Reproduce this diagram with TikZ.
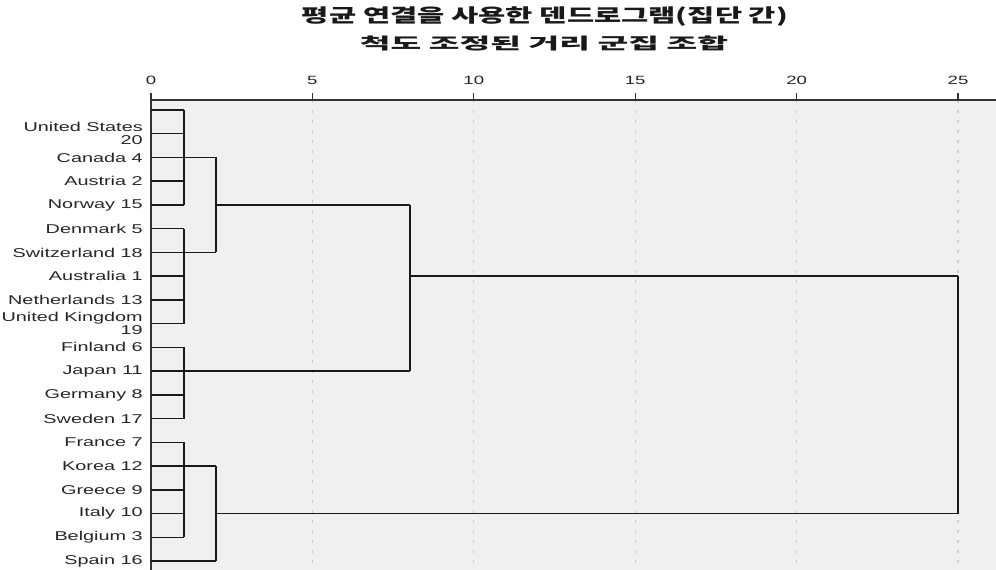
\documentclass[tikz,border=0pt]{standalone}
\usepackage{graphicx}
\usepackage{fontspec}
\setmainfont{Liberation Sans}
\newfontfamily\lbl[FakeStretch=1.55]{Liberation Sans}
\newfontfamily\cjk{Noto Sans CJK KR}
\definecolor{bgc}{RGB}{240,240,240}
\definecolor{gridc}{RGB}{205,205,205}
\definecolor{linec}{RGB}{25,25,25}
\begin{document}
\begin{tikzpicture}[x=0.75pt,y=-0.75pt,
  hline/.style={draw=linec,line width=1.1pt},
  vline/.style={draw=linec,line width=1.7pt},
  gridline/.style={draw=gridc,line width=0.9pt,dash pattern=on 2.5pt off 5pt},
  axisline/.style={draw=black!80,line width=1pt},
  leaflabel/.style={anchor=east,inner sep=0pt,align=right,font=\lbl\fontsize{9.6}{9.8}\selectfont,text=black!85},
  ticklabel/.style={inner sep=0pt,font=\lbl\fontsize{9}{9}\selectfont,text=black!85},
  titletext/.style={inner sep=0pt,text=black!90}]
\useasboundingbox (0,0) rectangle (996,570);
\fill[bgc] (151,100) rectangle (996,570);
% axis ticks positions
\foreach \k/\v in {0/0,1/5,2/10,3/15,4/20,5/25}{
  \coordinate (t\k) at ({151+161.4*\k},100);
  \node[ticklabel] (tl\k) at ({151+161.4*\k},80) {\v};
}
\foreach \k in {1,...,5}{
  \draw[gridline] (t\k) -- ++(0,470);
  \draw[axisline] (t\k) -- ++(0,-7);
}
\draw[axisline] (t0) -- (996,100);
\draw[axisline] (151,93) -- (151,570);
% titles
\node[titletext] (title1) at (545,17) {\cjk\bfseries\fontsize{14}{14}\selectfont\resizebox{364.5pt}{\height}{평균 연결을 사용한 덴드로그램(집단 간)}};
\node[titletext] (title2) at (544,43) {\cjk\bfseries\fontsize{12}{12}\selectfont\resizebox{276pt}{\height}{척도 조정된 거리 군집 조합}};
% rows
\foreach \i in {0,...,19}{
  \coordinate (r\i) at (151,{110+23.74*\i});
}
\coordinate (k1) at (184,100);
\coordinate (k2) at (216,100);
\coordinate (k3) at (410,100);
\coordinate (k4) at (958,100);
% labels
\foreach \i/\t in {2/Canada 4,3/Austria 2,4/Norway 15,5/Denmark 5,6/Switzerland 18,7/Australia 1,8/Netherlands 13,10/Finland 6,11/Japan 11,12/Germany 8,13/Sweden 17,14/France 7,15/Korea 12,16/Greece 9,17/Italy 10,18/Belgium 3,19/Spain 16}{
  \node[leaflabel] (lab\i) at ([xshift=-6pt]r\i) {\t};
}
\node[leaflabel] (lab1) at ([xshift=-6pt]r1) {United States\\20};
\node[leaflabel] (lab9) at ([xshift=-6pt]r9) {United Kingdom\\19};
% leaf lines
\foreach \i in {0,...,18}{
  \draw[hline] (r\i) -- (r\i -| k1);
}
\draw[hline] (r19) -- (r19 -| k2);
% first-level clusters
\draw[vline] (r0 -| k1) -- (r4 -| k1);
\draw[vline] (r5 -| k1) -- (r9 -| k1);
\draw[vline] (r10 -| k1) -- (r13 -| k1);
\draw[vline] (r14 -| k1) -- (r18 -| k1);
% second level
\draw[hline] (r2 -| k1) -- (r2 -| k2);
\draw[hline] (r6 -| k1) -- (r6 -| k2);
\draw[vline] (r2 -| k2) -- (r6 -| k2);
\draw[hline] (r15 -| k1) -- (r15 -| k2);
\draw[vline] (r15 -| k2) -- (r19 -| k2);
% third level
\draw[hline] (r4 -| k2) -- (r4 -| k3);
\draw[hline] (r11 -| k1) -- (r11 -| k3);
\draw[vline] (r4 -| k3) -- (r11 -| k3);
% final
\draw[hline] (r7 -| k3) -- (r7 -| k4);
\draw[hline] (r17 -| k2) -- (r17 -| k4);
\draw[vline] (r7 -| k4) -- (r17 -| k4);
\end{tikzpicture}
\end{document}
